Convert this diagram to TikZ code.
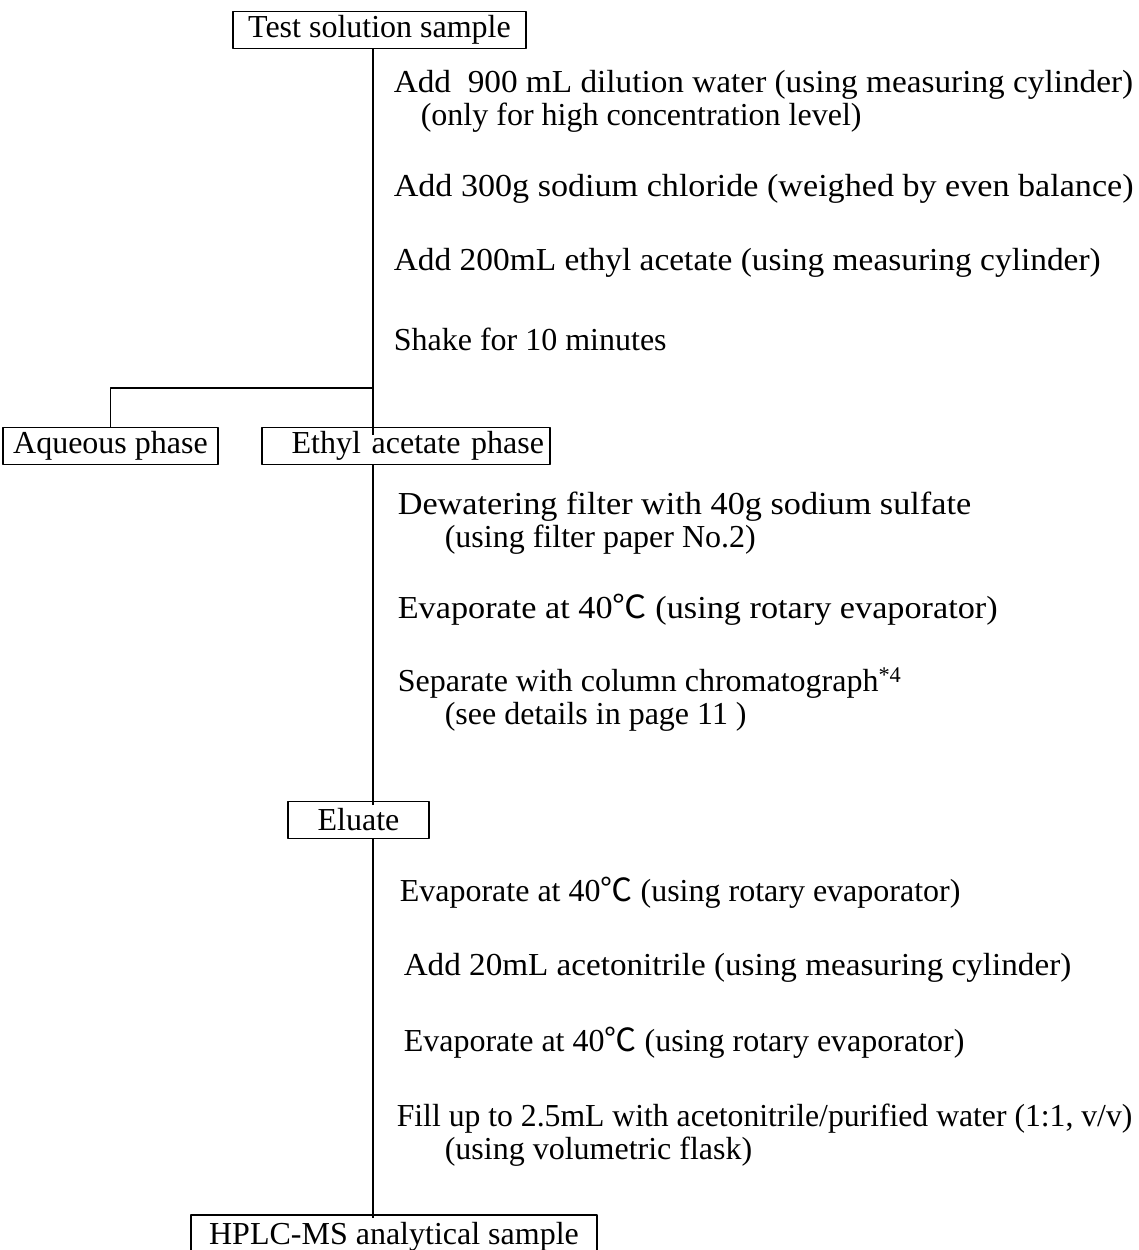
\documentclass[tikz,border=0pt]{standalone}
\usepackage{graphicx}
\usepackage{fontspec}
\setmainfont{Liberation Serif}
\newfontfamily\cjk{Noto Sans CJK JP}
\newcommand{\degC}{{\cjk ℃}}
\begin{document}
\begin{tikzpicture}[x=1pt, y=-1pt, font=\fontsize{32}{33}\selectfont, line join=round, line width=1.6pt,
    box/.style={draw, inner sep=0pt, minimum height=37pt},
    stepnote/.style={anchor=west, inner sep=0pt, align=left}]
    \useasboundingbox (0,0) rectangle (1138,1250);
    \coordinate (axis) at (373,0);
    \coordinate (split) at (373,388);
    % boxes
    \node[box, minimum width=293pt] (sample) at (379.5,30) {Test solution sample};
    \node[box, minimum width=215pt] (aqueous) at (110.5,446) {Aqueous phase};
    \node[box, text width=276pt, inner xsep=6pt, align=right] (ethyl) at (406,446) {Ethyl acetate phase};
    \node[box, minimum width=141pt] (eluate) at (358.5,820) {Eluate};
    \node[box, minimum width=406pt, minimum height=44pt] (hplc) at (394,1237) {HPLC-MS analytical sample};
    % steps
    \node[stepnote] (s1) at (393,101) {\scalebox{1.04}[1]{Add\ \ 900 mL dilution water (using measuring cylinder)}\\\hspace*{27pt}(only for high concentration level)};
    \node[stepnote] (s5) at (397,523.5) {\scalebox{1.07}[1]{Dewatering filter with 40g sodium sulfate}\\\hspace*{47pt}(using filter paper No.2)};
    \node[stepnote] (s7) at (397,699.5) {Separate with column chromatograph\textsuperscript{*4}\\\hspace*{47pt}(see details in page 11 )};
    \node[stepnote] (s11) at (396,1135) {\scalebox{0.99}[1]{Fill up to 2.5mL with acetonitrile/purified water (1:1, v/v)}\\\hspace*{48pt}(using volumetric flask)};
    \foreach \x/\y/\nm/\sc/\lbl in {393/189/s2/1.066/{Add 300g sodium chloride (weighed by even balance)},
        393/263/s3/1.044/{Add 200mL ethyl acetate (using measuring cylinder)},
        393/339/s4/1/{Shake for 10 minutes},
        397/610/s6/1.07/{Evaporate at 40\degC\ (using rotary evaporator)},
        399/893/s8/1/{Evaporate at 40\degC\ (using rotary evaporator)},
        403/968/s9/1.036/{Add 20mL acetonitrile (using measuring cylinder)},
        403/1043/s10/1/{Evaporate at 40\degC\ (using rotary evaporator)}}
        \node[stepnote] (\nm) at (\x,\y) {\scalebox{\sc}[1]{\lbl}};
    % connectors
    \draw (sample.south -| axis) -- (ethyl.north -| axis) -- ++(0,8);
    \draw (aqueous.north) |- (split);
    \draw (ethyl.south -| axis) -- (eluate.north -| axis) -- ++(0,4);
    \draw (eluate.south -| axis) -- (hplc.north -| axis) -- ++(0,4);
\end{tikzpicture}
\end{document}
